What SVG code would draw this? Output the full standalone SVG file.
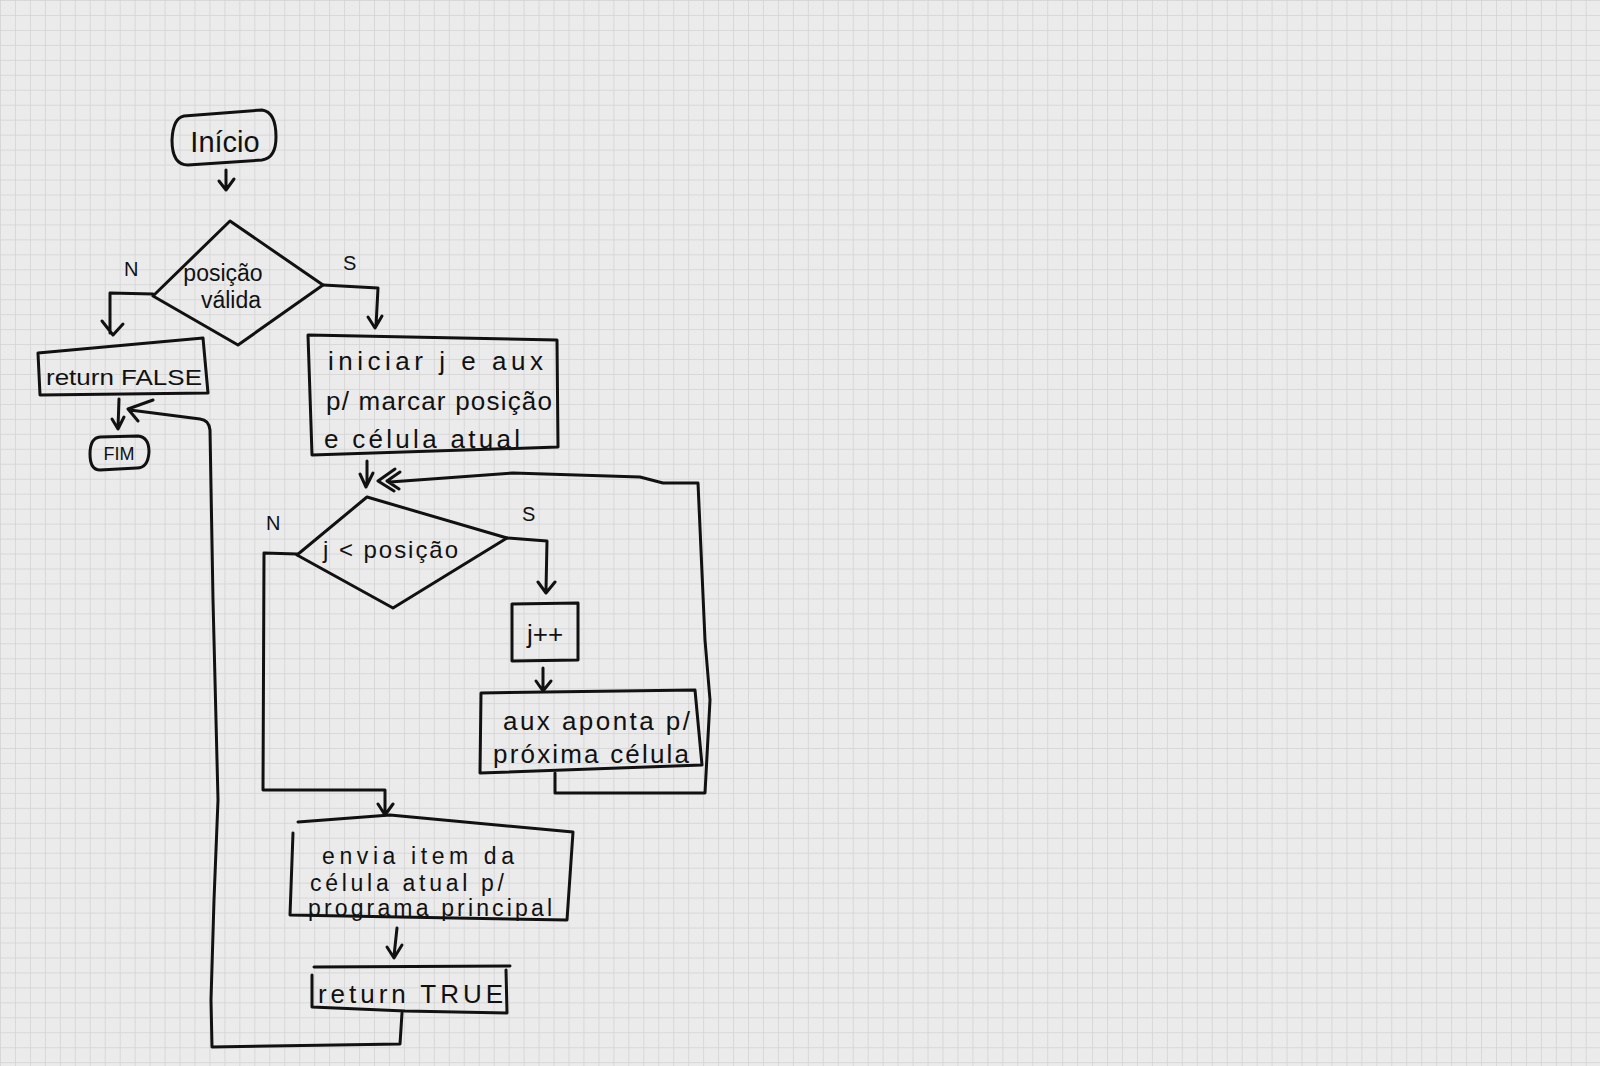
<svg xmlns="http://www.w3.org/2000/svg" width="1600" height="1066" viewBox="0 0 1600 1066">
<defs>
<pattern id="grid" patternUnits="userSpaceOnUse" width="14.96" height="14.96">
<rect width="14.96" height="14.96" fill="#ebebeb"/>
<path d="M0,0 H14.96 M0,0 V14.96" stroke="#d2d2d2" stroke-width="1.5" fill="none"/>
</pattern>
<style>
.s{fill:none;stroke:#111;stroke-width:3;stroke-linecap:round;stroke-linejoin:round}
.t{font-family:"Liberation Sans",Arial,sans-serif;fill:#111}
.m{text-anchor:middle}
</style>
</defs>
<rect width="1600" height="1066" fill="url(#grid)"/>

<g id="connectors">
<path class="s" d="M226,170 L226,190 M219,181 L226,190 L234,179"/>
<path class="s" d="M153,294 L110,293 L110,333 M102,321 L113,335 L123,324"/>
<path class="s" d="M323,285 L378,288 L376,326 M368,317 L375,328 L382,316"/>
<path class="s" d="M119,399 L118,428 M112,419 L118,429 L124,417"/>
<path class="s" d="M402,1013 L400,1044 L212,1047 L211,1000 L214,900 L218,800 L213,600 L210,430 Q209,420 200,419 L130,410 M153,400 L128,409 L138,421"/>
<path class="s" d="M367,461 L367,485 M360,474 L366,487 L373,473"/>
<path class="s" d="M390,482 L513,473 L640,477 L663,483 L698,483 L705,640 L710,700 L705,793 L555,793 L555,773 M395,469 L378,481 L394,491 M400,472 L387,481 L399,489"/>
<path class="s" d="M297,554 L264,553 L263,790 L385,790 L385,813 M378,804 L385,815 L393,804"/>
<path class="s" d="M507,538 L547,541 L546,590 M538,582 L546,593 L555,582"/>
<path class="s" d="M543,668 L543,690 M536,681 L543,691 L551,681"/>
<path class="s" d="M397,928 L394,956 M387,947 L394,958 L402,945"/>
</g>

<g id="inicio">
<path class="s" d="M184,116 L262,110 Q276,112 276,137 Q276,158 262,160 L188,165 Q172,165 172,140 Q173,118 184,116 Z"/>
<text class="t m" x="225" y="152" font-size="29">Início</text>
</g>

<g id="posicao-valida">
<path class="s" d="M230,221 L323,285 L238,345 L153,296 Z"/>
<text class="t m" x="223" y="281" font-size="23">posição</text>
<text class="t m" x="231" y="308" font-size="23">válida</text>
<text class="t" x="124" y="276" font-size="20">N</text>
<text class="t" x="343" y="270" font-size="20">S</text>
</g>

<g id="return-false">
<path class="s" d="M38,353 L203,338 L208,393 L40,395 Z"/>
<text class="t" x="46" y="385" font-size="22" textLength="156" lengthAdjust="spacingAndGlyphs">return FALSE</text>
</g>

<g id="fim">
<path class="s" d="M100,437 L138,436 Q149,437 149,452 Q148,468 137,468 L100,470 Q90,470 90,454 Q90,438 100,437 Z"/>
<text class="t m" x="119" y="460" font-size="18">FIM</text>
</g>

<g id="iniciar">
<path class="s" d="M308,335 L557,340 L558,447 L312,455 Z"/>
<text class="t" x="328" y="370" font-size="26" textLength="215" lengthAdjust="spacing">iniciar j e aux</text>
<text class="t" x="326" y="410" font-size="26" textLength="226" lengthAdjust="spacing">p/ marcar posição</text>
<text class="t" x="324" y="448" font-size="26" textLength="196" lengthAdjust="spacing">e célula atual</text>
</g>

<g id="j-posicao">
<path class="s" d="M367,497 L507,538 L393,608 L297,555 Z"/>
<text class="t" x="323" y="558" font-size="24" textLength="135" lengthAdjust="spacing">j &lt; posição</text>
<text class="t" x="266" y="530" font-size="20">N</text>
<text class="t" x="522" y="521" font-size="20">S</text>
</g>

<g id="jpp">
<path class="s" d="M512,604 L578,603 L578,660 L512,661 Z"/>
<text class="t m" x="545" y="643" font-size="26">j++</text>
</g>

<g id="aux-aponta">
<path class="s" d="M481,693 L695,690 L702,765 L480,773 Z"/>
<text class="t" x="503" y="730" font-size="26" textLength="187" lengthAdjust="spacing">aux aponta p/</text>
<text class="t" x="493" y="763" font-size="26" textLength="196" lengthAdjust="spacing">próxima célula</text>
</g>

<g id="envia">
<path class="s" d="M298,822 L390,815 L573,832 L567,920 L290,915 L293,833"/>
<text class="t" x="322" y="864" font-size="23" textLength="192" lengthAdjust="spacing">envia item da</text>
<text class="t" x="310" y="891" font-size="23" textLength="194" lengthAdjust="spacing">célula atual p/</text>
<text class="t" x="308" y="916" font-size="23" textLength="244" lengthAdjust="spacing">programa principal</text>
</g>

<g id="return-true">
<path class="s" d="M314,967 L510,966 M506,970 L507,1013 L405,1011 L312,1007 L312,975"/>
<text class="t" x="318" y="1003" font-size="26" textLength="185" lengthAdjust="spacing">return TRUE</text>
</g>
</svg>
